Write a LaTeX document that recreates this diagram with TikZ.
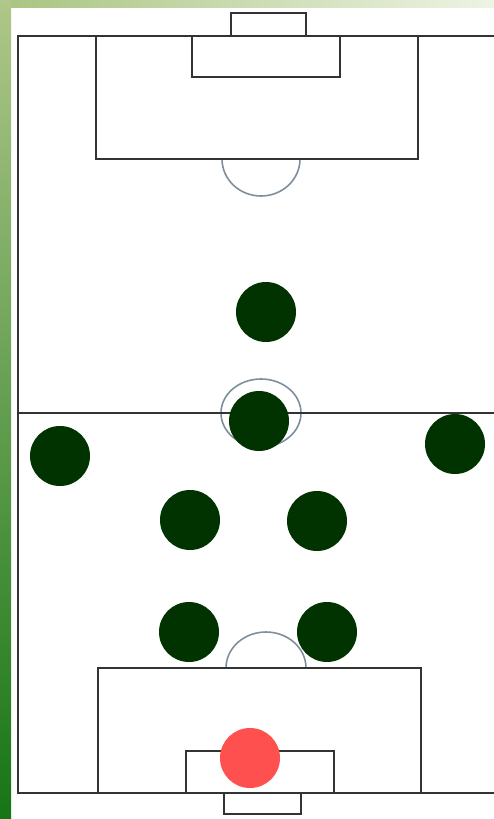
\documentclass[tikz,border=0pt]{standalone}
\usetikzlibrary{shadings}
\definecolor{barTop}{HTML}{AFC78A}
\definecolor{barBot}{HTML}{177515}
\definecolor{topL}{HTML}{A9C480}
\definecolor{topR}{HTML}{EEF3E4}
\definecolor{player}{HTML}{003300}
\definecolor{keeper}{HTML}{FF5050}
\definecolor{fieldline}{HTML}{333333}
\definecolor{arcline}{HTML}{7F8E9C}
\tikzset{
  fline/.style={draw=fieldline, line width=1.8pt},
  aline/.style={draw=arcline, line width=1.6pt},
  playerdot/.style={circle, fill=player, minimum size=60pt, inner sep=0pt},
  keeperdot/.style={circle, fill=keeper, minimum size=60pt, inner sep=0pt}
}
\begin{document}
\begin{tikzpicture}[x=1pt, y=-1pt]
\useasboundingbox (0,0) rectangle (494,819);
\fill[white] (0,0) rectangle (494,819);
% decorative bars
\shade[left color=topL, right color=topR] (0,0) rectangle (494,7);
\shade[top color=barTop, bottom color=barBot] (0,0) rectangle (11,819);
% arcs
\draw[aline] (222,159) arc[start angle=180, end angle=0, x radius=39, y radius=37];
\draw[aline] (261,413) ellipse[x radius=40, y radius=34];
\draw[aline] (226,668) arc[start angle=180, end angle=360, x radius=40, y radius=36];
% field outline
\draw[fline] (494,36) -- (18,36) -- (18,793) -- (494,793);
\draw[fline] (18,413) -- (494,413);
% top
\draw[fline] (96,36) rectangle (418,159);
\draw[fline] (192,36) rectangle (340,77);
\draw[fline] (231,36) -- (231,13) -- (306,13) -- (306,36);
% bottom
\draw[fline] (98,793) rectangle (421,668);
\draw[fline] (186,793) rectangle (334,751);
\draw[fline] (224,793) -- (224,814) -- (301,814) -- (301,793);
% players
\node[playerdot] (p1) at (266,312) {};
\node[playerdot] (p2) at (259,421) {};
\node[playerdot] (p3) at (60,456) {};
\node[playerdot] (p4) at (455,444) {};
\node[playerdot] (p5) at (190,520) {};
\node[playerdot] (p6) at (317,521) {};
\node[playerdot] (p7) at (189,632) {};
\node[playerdot] (p8) at (327,632) {};
\node[keeperdot] (gk) at (250,758) {};
\end{tikzpicture}
\end{document}
